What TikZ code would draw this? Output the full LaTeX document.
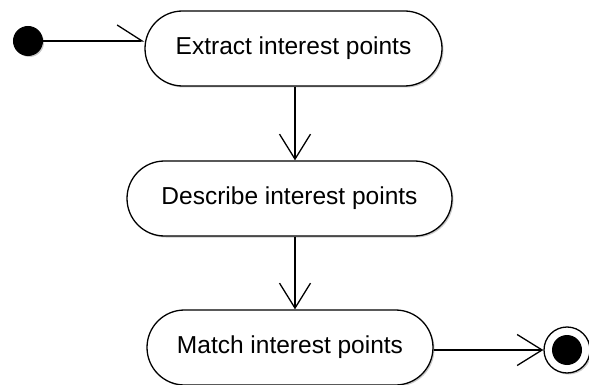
\documentclass[tikz,border=0pt]{standalone}
\usepackage{fontspec}
\setmainfont{Liberation Sans}
\usetikzlibrary{arrows.meta,shadows,shapes.misc}
\begin{document}
\begin{tikzpicture}[x=1pt,y=-1pt,
  activity/.style={rounded rectangle, rounded rectangle arc length=180,
    draw=black, line width=1.3pt, fill=white,
    minimum height=75pt, inner sep=0pt, font=\fontsize{24.5}{28}\selectfont,
    drop shadow={shadow xshift=1.5pt, shadow yshift=-1.5pt, opacity=0.35, fill=black!60}},
  flow/.style={line width=1.3pt, -{Straight Barb[length=25pt,width=31pt,line width=1.3pt]}},
  halfflow/.style={line width=1.3pt, -{Straight Barb[harpoon,length=25pt,width=32pt,line width=1.3pt]}}]
  \useasboundingbox (0,0) rectangle (589,385);
  % initial node
  \node[circle, fill=black, draw=black, line width=1pt, minimum size=29pt, inner sep=0pt,
    drop shadow={shadow xshift=1.5pt, shadow yshift=-1.5pt, opacity=0.35, fill=black!60}]
    (start) at (28,41) {};
  % activities
  \node[activity, minimum width=297pt] (extract) at (293.5,48.5) {Extract interest points};
  \node[activity, minimum width=325pt] (describe) at (289.5,198.5) {Describe interest points};
  \node[activity, minimum width=286pt] (match) at (290,347.5) {Match interest points};
  % final node
  \node[circle, draw=black, fill=white, line width=1.3pt, minimum size=46pt, inner sep=0pt,
    drop shadow={shadow xshift=1.5pt, shadow yshift=-1.5pt, opacity=0.35, fill=black!60}]
    (final) at (567,350) {};
  \node[circle, fill=black, minimum size=30pt, inner sep=0pt] (finaldot) at (final.center) {};
  % control flow
  \draw[halfflow] (start.east) -- (extract.west |- start.east);
  \draw[flow] (extract.south -| 295,0) -- (describe.north -| 295,0);
  \draw[flow] (describe.south -| 295,0) -- (match.north -| 295,0);
  \draw[flow] (match.east |- final.west) -- (final.west);
\end{tikzpicture}
\end{document}
